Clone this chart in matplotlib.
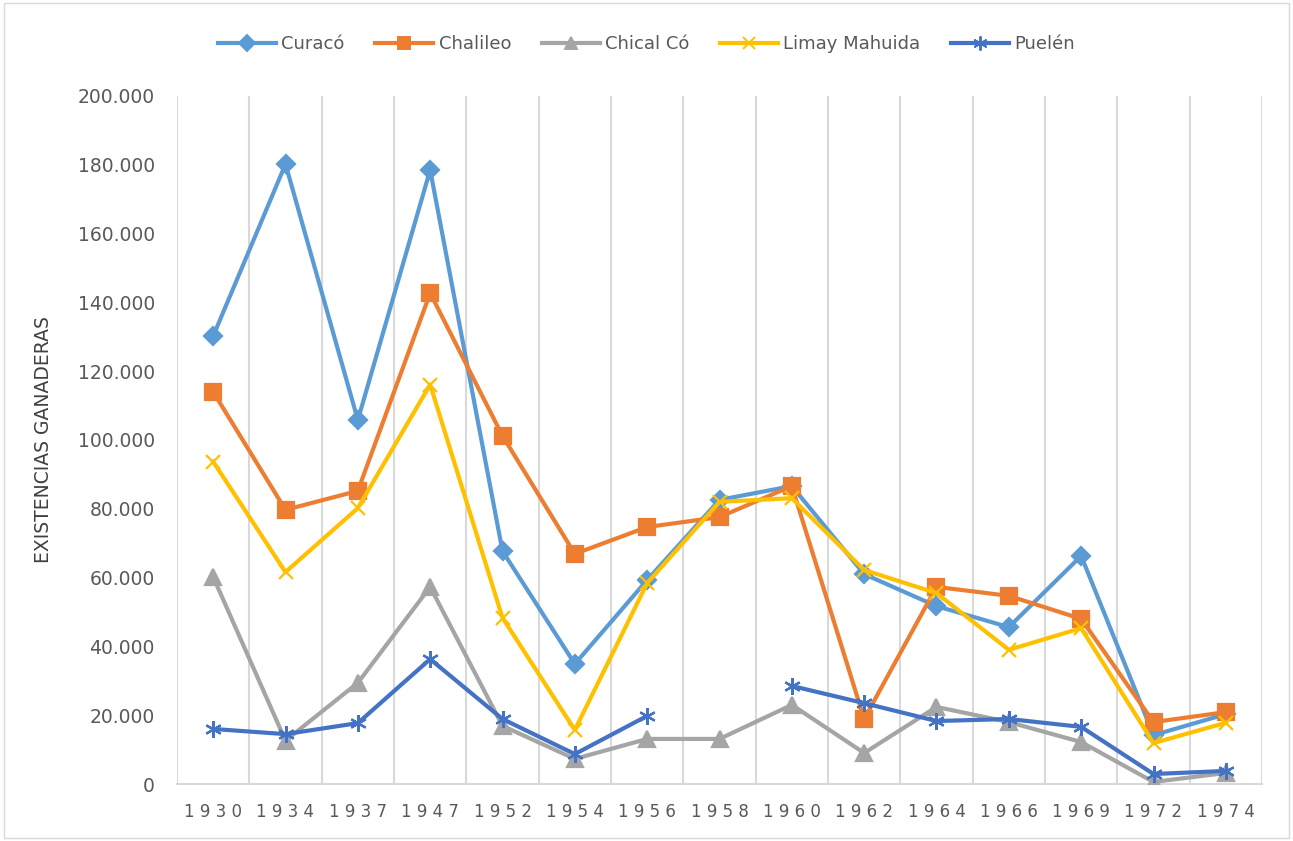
import matplotlib.pyplot as plt
import numpy as np
from matplotlib.lines import Line2D
from matplotlib.patches import Rectangle
from matplotlib.ticker import FuncFormatter

years = ["1930", "1934", "1937", "1947", "1952", "1954", "1956", "1958",
         "1960", "1962", "1964", "1966", "1969", "1972", "1974"]

curaco = [130200, 180200, 105800, 178500, 67700, 34900, 59300, 82600,
          86600, 61000, 51700, 45600, 66300, 14200, 20300]
chalileo = [114000, 79700, 85200, 142700, 101200, 66900, 74700, 77600,
            86600, 18900, 57300, 54700, 48000, 18000, 20900]
chical_co = [60200, 12600, 29400, 57300, 16900, 7300, 13100, 13100,
             23000, 9000, 22400, 18000, 12200, 600, 3200]
limay_mahuida = [93700, 61600, 80200, 116100, 48300, 15700, 58400, 82000,
                 83100, 62200, 55500, 39000, 45300, 11900, 17800]
puelen = [16000, 14500, 17700, 36300, 18900, 8700, 19800, np.nan,
          28500, 23500, 18300, 18900, 16600, 2900, 3800]

series = [
    ("Curacó", curaco, "#5B9BD5", "D", 9),
    ("Chalileo", chalileo, "#ED7D31", "s", 11),
    ("Chical Có", chical_co, "#A5A5A5", "^", 11),
    ("Limay Mahuida", limay_mahuida, "#FFC000", "x", 10),
    ("Puelén", puelen, "#4472C4", (6, 2, 0), 12),
]

plt.rcParams["font.family"] = ["DejaVu Sans"]

fig = plt.figure(figsize=(12.93, 8.41), dpi=100)
ax = fig.add_axes([177 / 1293, 1 - 784 / 841, (1262 - 177) / 1293, (784 - 96) / 841])

x = np.arange(len(years))
handles = []
for name, vals, color, marker, ms in series:
    ax.plot(x, vals, color=color, lw=3, marker=marker, ms=ms,
            mec=color, mfc=color, mew=1.6, zorder=3)
    handles.append(Line2D([], [], color=color, lw=3, marker=marker, ms=ms * 0.85,
                          mec=color, mfc=color, mew=1.4, label=name))

ax.set_xlim(-0.5, len(years) - 0.5)
ax.set_ylim(0, 200000)
ax.set_yticks(np.arange(0, 200001, 20000))
ax.yaxis.set_major_formatter(FuncFormatter(lambda v, _: f"{int(v):,}".replace(",", ".")))
ax.set_xticks(x)
ax.set_xticklabels([" ".join(y) for y in years])

for gx in np.arange(-0.5, len(years), 1.0):
    ax.axvline(gx, color="#D9D9D9", lw=1.5, zorder=1)

for side in ("top", "right", "left"):
    ax.spines[side].set_visible(False)
ax.spines["bottom"].set_color("#D9D9D9")
ax.spines["bottom"].set_linewidth(1.5)
ax.tick_params(length=0, labelsize=12, colors="#595959")
ax.tick_params(axis="x", pad=14)
ax.tick_params(axis="y", pad=16, labelsize=13.5)

ax.set_ylabel("EXISTENCIAS GANADERAS", fontsize=13.5, color="#404040",
              family=["Liberation Sans Narrow", "DejaVu Sans"])
ax.yaxis.set_label_coords(-(177 - 53) / (1262 - 177), 0.5)

fig.legend(handles=handles, loc="center", bbox_to_anchor=(0.5, 1 - 44 / 841),
           ncol=5, frameon=False, fontsize=13, handlelength=3.2,
           columnspacing=1.7, handletextpad=0.3, labelcolor="#595959")

fig.patches.append(Rectangle((0.003, 0.003), 0.994, 0.994, transform=fig.transFigure,
                             fill=False, edgecolor="#D9D9D9", lw=1))

fig.savefig("out.png", dpi=100)
